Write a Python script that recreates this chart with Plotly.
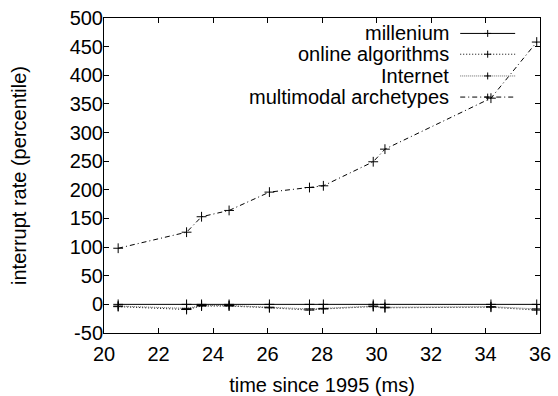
import plotly.graph_objects as go

# measurement times (ms since 1995), shared by every series
time_ms = [20.52, 23.03, 23.58, 24.59, 26.07, 27.54, 28.05, 29.88, 30.31, 34.2, 35.88]

millenium = [0, 0, 0, 0, 0, 0, 0, 0, 0, 0, 0]
online_algorithms = [-4, -9, -3, -3, -6, -10, -8, -4, -6, -5, -10]
internet = [-3, -7, -2, -2, -5, -8, -7, -3, -5, -4, -8]
multimodal_archetypes = [98, 126, 153, 164, 196, 204, 207, 249, 271, 360, 458]

x_ticks = [20, 22, 24, 26, 28, 30, 32, 34, 36]
y_ticks = [-50, 0, 50, 100, 150, 200, 250, 300, 350, 400, 450, 500]

series = [
    ("millenium", millenium, "#000000", "solid"),
    ("online algorithms", online_algorithms, "#000000", "1px,2px"),
    ("Internet", internet, "#666666", "1px,1px"),
    ("multimodal archetypes", multimodal_archetypes, "#000000", "5px,3px,1px,3px"),
]

FONT = "Liberation Sans, Arial, sans-serif"

fig = go.Figure()
for name, vals, color, dash in series:
    fig.add_trace(go.Scatter(
        x=time_ms, y=vals, name=name, mode="lines+markers",
        line=dict(color=color, width=1, dash=dash),
        marker=dict(symbol="cross-thin", size=7,
                    line=dict(color="#000000", width=1)),
        showlegend=False,
    ))

# key in the upper right, gnuplot style: right-aligned label, then sample
key_text_x = 0.796
sample_x0, sample_x1 = 0.817, 0.943
row_y = [0.951, 0.885, 0.816, 0.749]
shapes = []
annotations = []
for (name, vals, color, dash), yy in zip(series, row_y):
    annotations.append(dict(
        x=key_text_x, y=yy, xref="paper", yref="paper", text=name,
        showarrow=False, xanchor="right", yanchor="middle",
        font=dict(family=FONT, size=20, color="#000000"),
    ))
    shapes.append(dict(type="line", xref="paper", yref="paper",
                       x0=sample_x0, x1=sample_x1, y0=yy, y1=yy,
                       line=dict(color=color, width=1, dash=dash)))
    xm = (sample_x0 + sample_x1) / 2
    shapes.append(dict(type="line", xref="paper", yref="paper",
                       x0=xm - 0.008, x1=xm + 0.008, y0=yy, y1=yy,
                       line=dict(color="#000000", width=1)))
    shapes.append(dict(type="line", xref="paper", yref="paper",
                       x0=xm, x1=xm, y0=yy - 0.011, y1=yy + 0.011,
                       line=dict(color="#000000", width=1)))

axis_common = dict(
    showline=True, linecolor="#000000", linewidth=1, mirror="allticks",
    ticks="inside", ticklen=5, tickcolor="#000000", tickwidth=1,
    showgrid=False, zeroline=False, automargin=False,
    tickfont=dict(family=FONT, size=20, color="#000000"),
)

fig.update_layout(
    width=558, height=396,
    margin=dict(l=104, r=18, t=18, b=63),
    paper_bgcolor="#ffffff", plot_bgcolor="#ffffff",
    font=dict(family=FONT, size=20, color="#000000"),
    xaxis=dict(range=[20, 36], tickvals=x_ticks,
               ticktext=[str(v) for v in x_ticks],
               ticklabelstandoff=3,
               title=dict(text="time since 1995 (ms)", standoff=16,
                          font=dict(family=FONT, size=20)),
               **axis_common),
    yaxis=dict(range=[-50, 500], tickvals=y_ticks,
               ticktext=[str(v) for v in y_ticks],
               ticklabelstandoff=-4,
               title=dict(text="interrupt rate (percentile)", standoff=37,
                          font=dict(family=FONT, size=20)),
               **axis_common),
    shapes=shapes,
    annotations=annotations,
)

fig.write_html("out.html")
